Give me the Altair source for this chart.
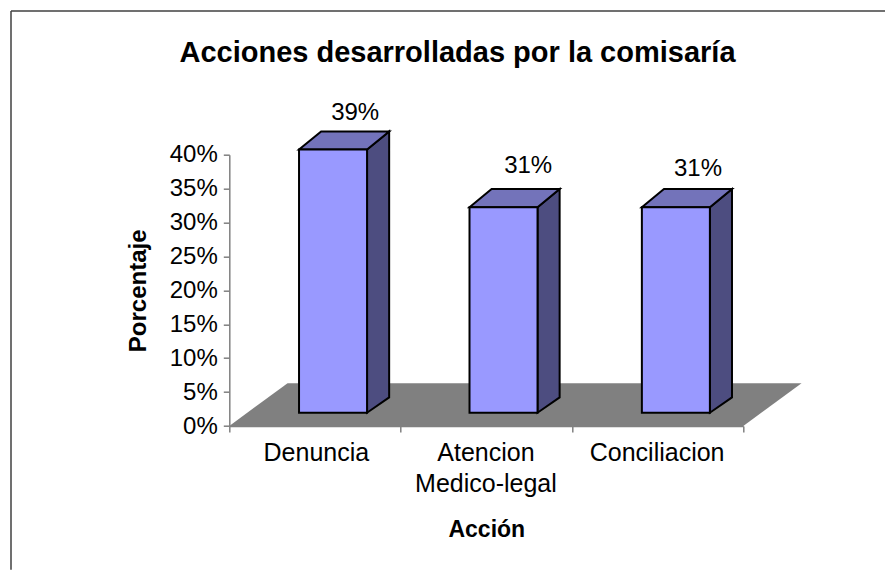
import altair as alt
import pandas as pd

# --- data -----------------------------------------------------------------
categories = ["Denuncia", "Atencion\nMedico-legal", "Conciliacion"]
values = [38.8, 30.3, 30.3]
value_labels = ["39%", "31%", "31%"]
y_ticks = [0, 5, 10, 15, 20, 25, 30, 35, 40]
x_ticks = [0, 1, 2, 3]
chart_title = "Acciones desarrolladas por la comisaría"

# --- layout ----------------------------------------------------------------
FONT = "Liberation Sans"
W, H = 514, 271.3            # plot box: one x unit = one category
PAD = {"left": 221.3, "top": 146.7, "right": 141.7, "bottom": 144}
BASE = 1.96                  # height of the bar foot above the axis line, in %
BAR_START = [0.407, 1.402, 2.408]
BAR_W = 0.397
DX = 0.129                   # bar depth, in x units
DY_TOP = 2.67                # bar depth at the top, in %
DY_FOOT = 2.26               # bar depth at the foot, in %
FLOOR_DX, FLOOR_DY = 0.34, 6.32
LABEL_DX = [0.129, 0.144, 0.129]
LABEL_DY = [1.7, 2.4, 2.0]
CAT_X = [0.508, 1.498, 2.497]

x_scale = alt.Scale(domain=[0, 3], nice=False, zero=False)
y_scale = alt.Scale(domain=[0, 40], nice=False, zero=False)

x_axis = alt.Axis(
    values=x_ticks, labels=False, grid=False, domainColor="#808080", domainWidth=1.5,
    tickColor="#808080", tickWidth=1.5, tickSize=6,
    title="Acción", titleFont=FONT, titleFontSize=23, titleFontWeight="bold",
    titleColor="black", titleY=110.7, titleBaseline="alphabetic",
)
y_axis = alt.Axis(
    values=y_ticks, labelExpr="datum.value + '%'", grid=False,
    labelFont=FONT, labelFontSize=24, labelColor="black", labelPadding=6,
    labelOverlap=False,
    domainColor="#808080", domainWidth=1.5,
    tickColor="#808080", tickWidth=1.5, tickSize=6,
    title="Porcentaje", titleFont=FONT, titleFontSize=24, titleFontWeight="bold",
    titleColor="black", titleAngle=270, titleX=-84, titleBaseline="alphabetic",
)
X = alt.X("x:Q", scale=x_scale, axis=x_axis)
Y = alt.Y("y:Q", scale=y_scale, axis=y_axis)

# floor
floor_df = pd.DataFrame({
    "x": [0, FLOOR_DX, 3, 3 + FLOOR_DX],
    "y": [0, FLOOR_DY, FLOOR_DY, FLOOR_DY],
    "y2": [0, 0, 0, FLOOR_DY],
})
floor = alt.Chart(floor_df).mark_area(color="#808080", opacity=1).encode(
    x=X, y=Y, y2="y2:Q"
)

# bar faces
front_rows, side_rows, top_rows = [], [], []
for i, (x0, v) in enumerate(zip(BAR_START, values)):
    x1 = x0 + BAR_W
    t = v + BASE
    front_rows.append({"x": x0, "x2": x1, "y": t, "y2": BASE})
    side_rows += [
        {"b": i, "x": x1, "y": t, "y2": BASE},
        {"b": i, "x": x1 + DX, "y": t + DY_TOP, "y2": BASE + DY_FOOT},
    ]
    top_rows += [
        {"b": i, "x": x0, "y": t, "y2": t},
        {"b": i, "x": x0 + DX, "y": t + DY_TOP, "y2": t},
        {"b": i, "x": x1, "y": t + DY_TOP, "y2": t},
        {"b": i, "x": x1 + DX, "y": t + DY_TOP, "y2": t + DY_TOP},
    ]

side = alt.Chart(pd.DataFrame(side_rows)).mark_area(
    color="#4D4D80", stroke="black", strokeWidth=2, opacity=1
).encode(x=X, y=Y, y2="y2:Q", detail="b:N")
top = alt.Chart(pd.DataFrame(top_rows)).mark_area(
    color="#7373BA", stroke="black", strokeWidth=2, opacity=1
).encode(x=X, y=Y, y2="y2:Q", detail="b:N")
front = alt.Chart(pd.DataFrame(front_rows)).mark_rect(
    color="#9999FF", stroke="black", strokeWidth=2
).encode(x=X, x2="x2:Q", y=Y, y2="y2:Q")

# value labels
label_df = pd.DataFrame({
    "x": [s + BAR_W / 2 + d for s, d in zip(BAR_START, LABEL_DX)],
    "y": [v + BASE + DY_TOP + d for v, d in zip(values, LABEL_DY)],
    "t": value_labels,
})
labels = alt.Chart(label_df).mark_text(
    font=FONT, fontSize=24, color="black", baseline="alphabetic", align="center"
).encode(x=X, y=Y, text="t:N")

# category labels
cat_df = pd.DataFrame({
    "x": CAT_X,
    "t": [c.split("\n") for c in categories],
})
cat_text = alt.Chart(cat_df).mark_text(
    font=FONT, fontSize=25, color="black", baseline="alphabetic", align="center",
    lineHeight=31
).encode(x=X, y=alt.value(H + 34.7), text="t:N")

# chart title as a text mark placed over the picture's centre
title_mark = alt.Chart(pd.DataFrame({"t": [chart_title]})).mark_text(
    font=FONT, fontSize=29, fontWeight="bold", color="black",
    baseline="alphabetic", align="center"
).encode(x=alt.value(457.5 - 229.3), y=alt.value(62 - 154.7), text="t:N")

# frame (left and top edges only are inside the picture)
frame_top = alt.Chart().mark_rule(color="#404040", strokeWidth=1.5).encode(
    x=alt.value(-218.3), x2=alt.value(656), y=alt.value(-143.7)
)
frame_left = alt.Chart().mark_rule(color="#404040", strokeWidth=1.5).encode(
    x=alt.value(-218.3), y=alt.value(-143.7), y2=alt.value(415)
)

chart = alt.layer(
    frame_top, frame_left, floor, side, top, front, labels, cat_text, title_mark
).properties(
    width=W, height=H, padding=PAD,
    autosize=alt.AutoSizeParams(type="none"),
    background="white",
).configure_view(stroke=None)

chart.save("out.html", embed_options={"renderer": "svg", "actions": False})
